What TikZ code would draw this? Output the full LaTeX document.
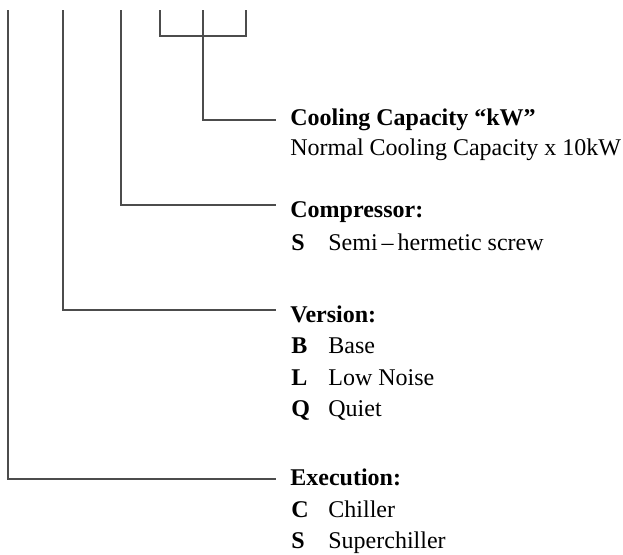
\documentclass[tikz,border=0pt]{standalone}
\usepackage{fontspec}
\setmainfont{Liberation Serif}
\tikzset{
  lead/.style={draw=black!70,line width=0.6pt},
  txt/.style={anchor=base west,inner sep=0pt,font=\fontsize{12}{14}\selectfont},
  head/.style={txt,font=\fontsize{12}{14}\selectfont\bfseries}
}
\begin{document}
\begin{tikzpicture}[x=0.5pt,y=-0.5pt]
\useasboundingbox (0,0) rectangle (623,554);
% tops of the code positions
\coordinate (exeTop) at (8,10);
\coordinate (verTop) at (63,10);
\coordinate (comTop) at (121,10);
\coordinate (capL) at (160,10);
\coordinate (capR) at (246,10);
\coordinate (capTop) at (203,36);
% ends of the leaders
\coordinate (capEnd) at (276,120);
\coordinate (comEnd) at (276,205);
\coordinate (verEnd) at (276,310);
\coordinate (exeEnd) at (276,479);

\node[head] (cap) at (290,125) {Cooling Capacity ``kW''};
\node[txt] (capTxt) at (290,155) {Normal Cooling Capacity x 10kW};

\node[head] (com) at (290,217) {Compressor:};
\node[head] (comS) at (291,250) {S};
\node[txt] (comSTxt) at (328,250) {Semi\,--\,hermetic screw};

\node[head] (ver) at (290,322) {Version:};
\node[head] (verB) at (291,353) {B};
\node[txt] (verBTxt) at (328,353) {Base};
\node[head] (verL) at (291,385) {L};
\node[txt] (verLTxt) at (328,385) {Low Noise};
\node[head] (verQ) at (291,416) {Q};
\node[txt] (verQTxt) at (328,416) {Quiet};

\node[head] (exe) at (290,485) {Execution:};
\node[head] (exeC) at (291,517) {C};
\node[txt] (exeCTxt) at (328,517) {Chiller};
\node[head] (exeS) at (291,548) {S};
\node[txt] (exeSTxt) at (328,548) {Superchiller};

\draw[lead] (capL) |- (capTop) -| (capR);
\draw[lead] (capTop |- capL) -- (capTop) |- (capEnd);
\draw[lead] (comTop) |- (comEnd);
\draw[lead] (verTop) |- (verEnd);
\draw[lead] (exeTop) |- (exeEnd);
\end{tikzpicture}
\end{document}
